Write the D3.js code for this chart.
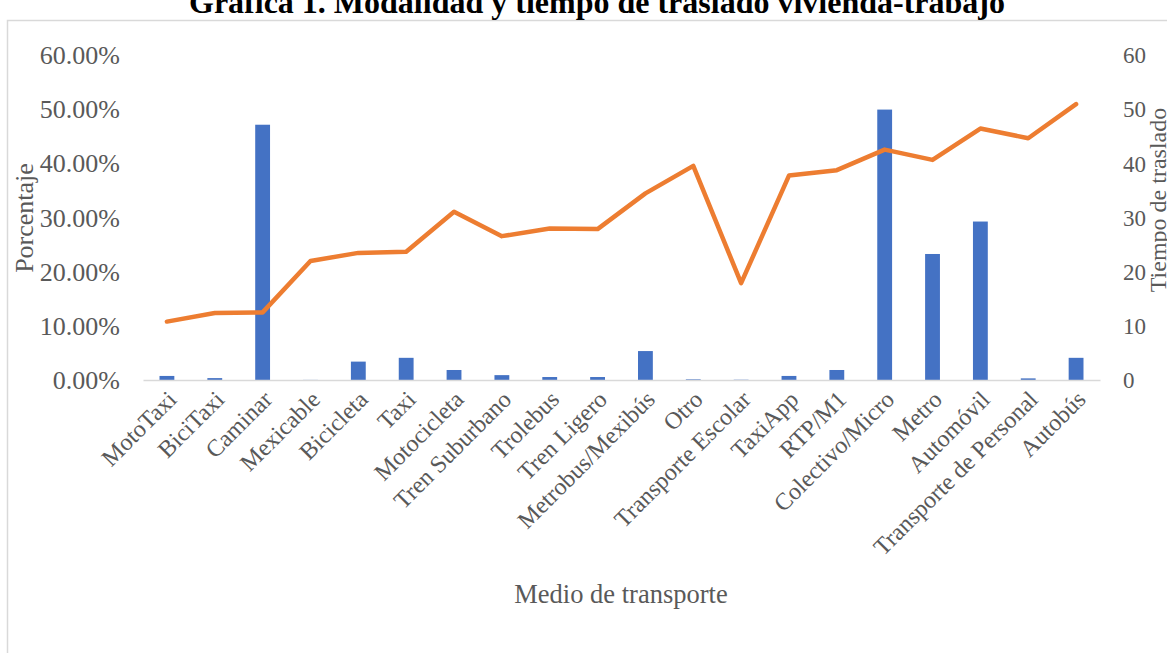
<!DOCTYPE html>
<html><head><meta charset="utf-8">
<script src="https://cdn.jsdelivr.net/npm/d3@7"></script>
<style>body{margin:0;background:#fff;} svg{display:block;} text{font-family:"Liberation Serif","Times New Roman",serif;}</style>
</head><body><svg id="c" width="1167" height="653"></svg>
<script>
const categories = ["MotoTaxi","BiciTaxi","Caminar","Mexicable","Bicicleta","Taxi","Motocicleta","Tren Suburbano","Trolebus","Tren Ligero","Metrobus/Mexibús","Otro","Transporte Escolar","TaxiApp","RTP/M1","Colectivo/Micro","Metro","Automóvil","Transporte de Personal","Autobús"];
const percentages = [0.75,0.35,47.2,0.02,3.4,4.1,1.85,0.9,0.55,0.55,5.35,0.12,0.05,0.75,1.85,50.0,23.3,29.3,0.3,4.1];
const travelTimes = [10.8,12.4,12.5,22.0,23.5,23.7,31.1,26.6,28.0,27.9,34.5,39.6,17.9,37.8,38.8,42.6,40.7,46.5,44.7,51.0];
const leftTicks = [0,10,20,30,40,50,60];
const rightTicks = [0,10,20,30,40,50,60];
const title = "Gráfica 1. Modalidad y tiempo de traslado vivienda-trabajo";

const svg = d3.select("#c");
const grey = "#595959";

svg.append("rect").attr("x",7.5).attr("y",20.5).attr("width",1200).attr("height",700)
  .attr("fill","none").attr("stroke","#d9d9d9").attr("stroke-width",1.5);

svg.append("text").attr("x",597).attr("y",13).attr("text-anchor","middle")
  .attr("font-weight","bold").attr("font-size",32).attr("fill","#000").text(title);

const x = d3.scaleBand().domain(categories).range([143,1100]);
const yL = d3.scaleLinear().domain([0,60]).range([380,55.5]);
const yR = d3.scaleLinear().domain([0,60]).range([380,55.5]);

// bars
const bw = x.bandwidth()*0.31;
svg.append("g").selectAll("rect").data(categories).join("rect")
  .attr("x",(d)=>x(d)+x.bandwidth()/2-bw/2)
  .attr("y",(d,i)=>yL(percentages[i]))
  .attr("width",bw)
  .attr("height",(d,i)=>yL(0)-yL(percentages[i]))
  .attr("fill","#4472C4");

// baseline axis
const xAxis = d3.axisBottom(x).tickSize(0).tickFormat("");
const gx = svg.append("g").attr("transform","translate(0,380)").call(xAxis);
gx.select(".domain").attr("stroke","#d9d9d9").attr("stroke-width",1.5);

// x labels
svg.append("g").selectAll("text").data(categories).join("text")
  .attr("text-anchor","end")
  .attr("font-size",24).attr("fill",grey)
  .attr("transform",d=>`translate(${x(d)+x.bandwidth()/2+5},${395}) rotate(-45)`)
  .attr("dy","0.35em")
  .text(d=>d);

// left axis
const gL = svg.append("g").attr("transform","translate(120,0)")
  .call(d3.axisLeft(yL).tickValues(leftTicks).tickSize(0).tickPadding(0).tickFormat(d=>d3.format(".2f")(d)+"%"));
gL.select(".domain").remove();
gL.selectAll("text").attr("font-size",26).attr("fill",grey).attr("font-family","Liberation Serif");

// right axis
const gR = svg.append("g").attr("transform","translate(1123,0)")
  .call(d3.axisRight(yR).tickValues(rightTicks).tickSize(0).tickPadding(0).tickFormat(d3.format("d")));
gR.select(".domain").remove();
gR.selectAll("text").attr("font-size",23).attr("fill",grey).attr("font-family","Liberation Serif");

// line
const line = d3.line().x((d,i)=>x(categories[i])+x.bandwidth()/2).y(d=>yR(d));
svg.append("path").datum(travelTimes).attr("d",line)
  .attr("fill","none").attr("stroke","#ED7D31").attr("stroke-width",4.5)
  .attr("stroke-linejoin","round").attr("stroke-linecap","round");

// axis titles
svg.append("text").attr("transform","translate(33,218) rotate(-90)").attr("text-anchor","middle")
  .attr("font-size",26).attr("fill",grey).text("Porcentaje");
svg.append("text").attr("transform","translate(1166,200) rotate(-90)").attr("text-anchor","middle")
  .attr("font-size",24).attr("fill",grey).text("Tiempo de traslado");
svg.append("text").attr("x",621).attr("y",603).attr("text-anchor","middle")
  .attr("font-size",26.5).attr("fill",grey).text("Medio de transporte");
</script></body></html>
